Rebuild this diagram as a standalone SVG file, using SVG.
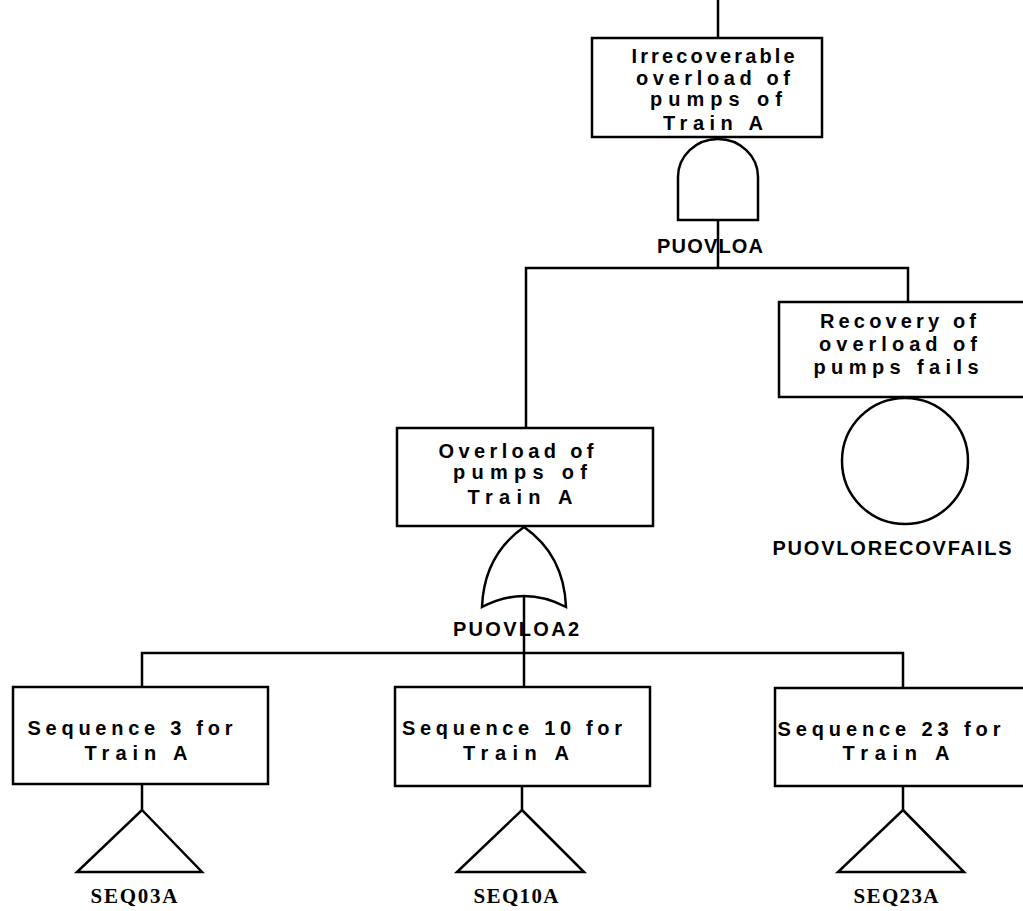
<svg xmlns="http://www.w3.org/2000/svg" width="1023" height="911" viewBox="0 0 1023 911">
  <style>
    .shape { fill: #fff; stroke: #000; stroke-width: 2.5; }
    .wire { fill: none; stroke: #000; stroke-width: 2.5; }
    .desc { font-family: "Liberation Sans", Arial, sans-serif; font-weight: bold; font-size: 20px; fill: #000; text-anchor: middle; }
    .gate { font-family: "Liberation Sans", Arial, sans-serif; font-weight: bold; font-size: 20px; fill: #000; text-anchor: middle; }
    .xfer { font-family: "Liberation Serif", "Times New Roman", serif; font-weight: bold; font-size: 21px; fill: #000; text-anchor: middle; }
  </style>

  <!-- connectors -->
  <g id="connectors">
    <line class="wire" x1="718" y1="0" x2="718" y2="38"/>
    <line class="wire" x1="718" y1="220" x2="718" y2="268"/>
    <polyline class="wire" points="526,428 526,268 908,268 908,302"/>
    <line class="wire" x1="524" y1="596" x2="524" y2="687"/>
    <polyline class="wire" points="142,687 142,653 903,653 903,687"/>
    <line class="wire" x1="142" y1="784" x2="142" y2="810"/>
    <line class="wire" x1="522" y1="786" x2="522" y2="810"/>
    <line class="wire" x1="903" y1="786" x2="903" y2="810"/>
  </g>

  <!-- top event with AND gate -->
  <g id="PUOVLOA">
    <rect class="shape" x="592" y="38" width="230" height="99"/>
    <text class="desc" x="713" y="63" textLength="163" lengthAdjust="spacing">Irrecoverable</text>
    <text class="desc" x="713" y="85" textLength="154" lengthAdjust="spacing">overload of</text>
    <text class="desc" x="716" y="106" textLength="132" lengthAdjust="spacing">pumps of</text>
    <text class="desc" x="713" y="130" textLength="100" lengthAdjust="spacing">Train A</text>
    <path class="shape" d="M678,220 L678,177 A40,38 0 0 1 758,177 L758,220 Z"/>
    <text class="gate" x="710" y="253" textLength="106" lengthAdjust="spacing">PUOVLOA</text>
  </g>

  <!-- basic event -->
  <g id="PUOVLORECOVFAILS">
    <rect class="shape" x="779" y="302" width="260" height="95"/>
    <text class="desc" x="898" y="328" textLength="156" lengthAdjust="spacing">Recovery of</text>
    <text class="desc" x="898" y="351" textLength="158" lengthAdjust="spacing">overload of</text>
    <text class="desc" x="896" y="374" textLength="165" lengthAdjust="spacing">pumps fails</text>
    <circle class="shape" cx="905" cy="461" r="63"/>
    <text class="gate" x="892" y="555" textLength="239" lengthAdjust="spacing">PUOVLORECOVFAILS</text>
  </g>

  <!-- intermediate event with OR gate -->
  <g id="PUOVLOA2">
    <rect class="shape" x="397" y="428" width="256" height="98"/>
    <text class="desc" x="516" y="458" textLength="155" lengthAdjust="spacing">Overload of</text>
    <text class="desc" x="520" y="479" textLength="134" lengthAdjust="spacing">pumps of</text>
    <text class="desc" x="520" y="504" textLength="105" lengthAdjust="spacing">Train A</text>
    <path class="shape" d="M482,607 Q484,555 524,527 Q564,555 566,607 Q524,585 482,607 Z"/>
    <text class="gate" x="516" y="636" textLength="126" lengthAdjust="spacing">PUOVLOA2</text>
  </g>

  <!-- transfers -->
  <g id="SEQ03A">
    <rect class="shape" x="13" y="687" width="255" height="97"/>
    <text class="desc" x="130" y="735" textLength="205" lengthAdjust="spacing">Sequence 3 for</text>
    <text class="desc" x="136" y="760" textLength="103" lengthAdjust="spacing">Train A</text>
    <polygon class="shape" points="142,810 202,872 77,872"/>
    <text class="xfer" x="134" y="903" textLength="87" lengthAdjust="spacing">SEQ03A</text>
  </g>

  <g id="SEQ10A">
    <rect class="shape" x="395" y="687" width="255" height="99"/>
    <text class="desc" x="512" y="735" textLength="220" lengthAdjust="spacing">Sequence 10 for</text>
    <text class="desc" x="516" y="760" textLength="106" lengthAdjust="spacing">Train A</text>
    <polygon class="shape" points="522,810 584,872 457,872"/>
    <text class="xfer" x="516" y="903" textLength="85" lengthAdjust="spacing">SEQ10A</text>
  </g>

  <g id="SEQ23A">
    <rect class="shape" x="775" y="688" width="260" height="98"/>
    <text class="desc" x="889" y="736" textLength="223" lengthAdjust="spacing">Sequence 23 for</text>
    <text class="desc" x="896" y="760" textLength="107" lengthAdjust="spacing">Train A</text>
    <polygon class="shape" points="903,810 964,872 838,872"/>
    <text class="xfer" x="896" y="903" textLength="85" lengthAdjust="spacing">SEQ23A</text>
  </g>
</svg>
